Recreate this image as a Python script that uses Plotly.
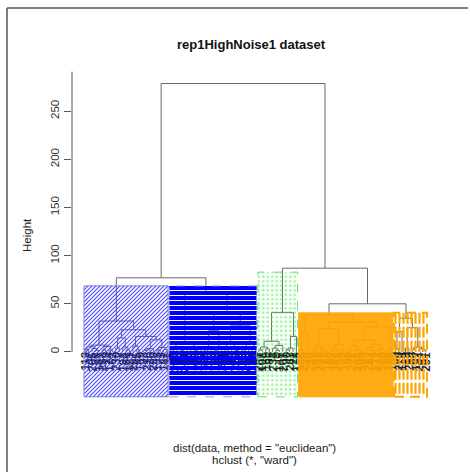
import math
import plotly.graph_objects as go

TITLE = "rep1HighNoise1 dataset"
Y_LABEL = "Height"
SUB1 = 'dist(data, method = "euclidean")'
SUB2 = 'hclust (*, "ward")'
Y_TICKS = [0, 50, 100, 150, 200, 250]

# dendrogram sub-trees: [left, right, merge height]; 0 = a leaf
TREE_A = [[[[0, 0, 2.5], [0, [0, 0, 1.5], 3.5], 5.2], [[0, 0, 2], [0, 0, 1.8], 5.6], 7],
          [[[0, 0, 4], [0, [0, 0, 2], 5], 14.5],
           [[0, [0, 0, 2], 6],
            [[[[0, 0, 1.5], 0, 2.8], 0, 3.6], [[0, 0, 2], [0, 0, 2.6], 4.5], 12.5], 16], 23], 32]
TREE_B = [[[[0, 0, 2], [0, [0, 0, 1.2], 3], 5], [[0, 0, 2.5], [[0, 0, 1.6], 0, 3.2], 4.8], 10],
          [[[[0, 0, 2], 0, 4], [[0, 0, 1.8], 0, 3.5], 22],
           [[[0, 0, 2.2], [0, [0, 0, 1.4], 3], 9], [[[0, 0, 2], 0, 3.6], [0, 0, 2.6], 10.5], 27], 39], 62.6]
TREE_C = [[[[0, 0, 2], [0, 0, 3.2], 5], [[0, [0, 0, 1.5], 3.8], 0, 6.5], 11],
          [[[0, 0, 2], 0, 4], 0, 16], 41]
TREE_D = [[[0, 0, 3], [0, 0, 2.5], 20],
          [[[[0, 0, 2], [0, [0, 0, 1.6], 3.4], 6], [[[0, 0, 2.4], 0, 4], [0, 0, 1.9], 7.5], 24],
           [[[[0, 0, 2.1], [[0, 0, 1.3], 0, 3], 5.5],
             [[[0, 0, 2.7], [0, 0, 1.7], 4.4], [0, [0, 0, 2], 3.6], 8], 12], [0, 0, 3.5], 26], 31], 38]
TREE_E = [[[0, 0, 3], 0, 21], [[0, 0, 4], [[0, 0, 2.5], [0, [0, 0, 1.8], 3.2], 5], 25], 35]
H_LEFT = 76.9
H_DE = 49.9
H_RIGHT = 86.9
H_ROOT = 278.7

BOX_TOPS = [68.5, 68.5, 82.8, 40.5, 40.5]
BOX_BOTTOM = -46.7

LEAF_LABELS = [
    "112", "37", "205", "88", "141", "263", "19", "174", "52", "230",
    "7", "198", "64", "121", "287", "45", "159", "93", "216", "30",
    "250", "133", "71", "182", "11", "276", "104", "58", "167", "241",
    "26", "149", "84", "293", "117", "63", "210", "3", "189", "127",
    "272", "41", "155", "99", "222", "15", "136", "258", "77", "194",
    "34", "281", "108", "169", "56", "234", "9", "145", "201", "90",
    "267", "22", "178", "125", "299", "48", "213", "81", "152", "239",
    "13", "186", "67", "118", "254", "39", "162", "96", "227", "5",
    "284", "130", "73", "207", "44", "171", "247", "100", "18", "193",
    "139", "60", "270", "114", "29", "219", "86", "157", "244", "51",
    "291", "123",
]

FONT = "Liberation Sans, Arial, Helvetica, sans-serif"
W, H = 470, 472
ML, MR, MT, MB = 72, 30, 63, 72
Y_LO, Y_HI = -50, 300


def count_leaves(node):
    if node == 0:
        return 1
    return count_leaves(node[0]) + count_leaves(node[1])


def build(node, xs, ys, counter):
    if node == 0:
        counter[0] += 1
        return float(counter[0]), 0.0
    left, right, h = node
    lx, lh = build(left, xs, ys, counter)
    rx, rh = build(right, xs, ys, counter)
    xs += [lx, lx, rx, rx, None]
    ys += [lh, h, h, rh, None]
    return (lx + rx) / 2.0, h


clusters = [TREE_A, TREE_B, TREE_C, TREE_D, TREE_E]
root = [[TREE_A, TREE_B, H_LEFT], [TREE_C, [TREE_D, TREE_E, H_DE], H_RIGHT], H_ROOT]
N = count_leaves(root)
seg_x, seg_y = [], []
build(root, seg_x, seg_y, [0])

spans = []
start = 1
for t in clusters:
    n = count_leaves(t)
    spans.append((start, start + n - 1))
    start += n

plot_w = W - ML - MR
plot_h = H - MT - MB
step = (425.9 - 85.2) / (N - 1)
x_lo = 1 - (85.2 - ML) / step
x_hi = N + (ML + plot_w - 425.9) / step


def d2px_x(v):
    return ML + (v - x_lo) / (x_hi - x_lo) * plot_w


def d2px_y(v):
    return H - MB - (v - Y_LO) / (Y_HI - Y_LO) * plot_h


def px2d_x(p):
    return x_lo + (p - ML) / plot_w * (x_hi - x_lo)


def px2d_y(p):
    return Y_LO + (H - MB - p) / plot_h * (Y_HI - Y_LO)


fig = go.Figure()

labels = [LEAF_LABELS[i % len(LEAF_LABELS)] for i in range(N)]
fig.add_trace(go.Bar(
    x=list(range(1, N + 1)), y=[-30] * N, text=["<b>" + t + "</b>" for t in labels],
    textposition="inside", insidetextanchor="start", textangle=-90,
    constraintext="none", cliponaxis=False,
    insidetextfont=dict(size=11.5, color="#1e1e28", family=FONT),
    marker=dict(color="rgba(0,0,0,0)", line=dict(width=0)),
    width=0.8, hoverinfo="skip", showlegend=False))

fig.add_trace(go.Scatter(x=seg_x, y=seg_y, mode="lines",
                         line=dict(color="#6a6a6a", width=1),
                         hoverinfo="skip", showlegend=False))

rects = []
for (s, e), top in zip(spans, BOX_TOPS):
    rects.append((s - 0.34, e + 0.33, BOX_BOTTOM, top))


def outline(r, line, fill=None, pattern=None):
    x0, x1, y0, y1 = r
    kw = dict(x=[x0, x1, x1, x0, x0], y=[y0, y0, y1, y1, y0], mode="lines",
              line=line, hoverinfo="skip", showlegend=False)
    if fill is not None or pattern is not None:
        kw["fill"] = "toself"
        kw["fillcolor"] = fill if fill is not None else "rgba(0,0,0,0)"
    if pattern is not None:
        kw["fillpattern"] = pattern
    fig.add_trace(go.Scatter(**kw))


# --- box A: diagonal hatching ---
rA = rects[0]
L, R = d2px_x(rA[0]), d2px_x(rA[1])
T, B = d2px_y(rA[3]), d2px_y(rA[2])
hx, hy = [], []
c = L + T
while c <= R + B:
    a, b = max(L, c - B), min(R, c - T)
    if b > a:
        hx += [px2d_x(a), px2d_x(b), None]
        hy += [px2d_y(c - a), px2d_y(c - b), None]
    c += 4.0
fig.add_trace(go.Scatter(x=hx, y=hy, mode="lines", line=dict(color="#4a4aff", width=1.15),
                         hoverinfo="skip", showlegend=False))
outline(rA, dict(color="#7d7dd0", width=1))

# --- box B: horizontal hatching ---
rB = rects[1]
T, B = d2px_y(rB[3]), d2px_y(rB[2])
hx, hy = [], []
p = math.ceil(T + 2)
while p <= B - 1:
    hx += [rB[0], rB[1], None]
    hy += [px2d_y(p), px2d_y(p), None]
    p += 5
fig.add_trace(go.Scatter(x=hx, y=hy, mode="lines", line=dict(color="#0000ff", width=3.8),
                         hoverinfo="skip", showlegend=False))
outline(rB, dict(color="#9a9ad8", width=1, dash="dash"))

# --- box C: dotted pattern ---
outline(rects[2], dict(color="#66e066", width=1, dash="dash"),
        pattern=dict(shape=".", fgcolor="#3cec3c", size=4.5, solidity=0.3))

# --- box D: solid ---
outline(rects[3], dict(color="rgba(255,165,0,0.9)", width=1), fill="rgba(255,165,0,0.92)")

# --- box E: dashed vertical hatching ---
rE = rects[4]
L, R = d2px_x(rE[0]), d2px_x(rE[1])
hx, hy = [], []
p = math.floor(L) + 1.5
while p <= R - 0.5:
    hx += [px2d_x(p), px2d_x(p), None]
    hy += [rE[3], rE[2], None]
    p += 4
fig.add_trace(go.Scatter(x=hx, y=hy, mode="lines",
                         line=dict(color="#ffa500", width=2.2, dash="11px,3px"),
                         hoverinfo="skip", showlegend=False))
outline(rE, dict(color="#ffa500", width=2, dash="10px,6px"))


def px_x(p):
    return (p - ML) / plot_w


def px_y(p):
    return (H - MB - p) / plot_h


shapes = [
    dict(type="line", xref="paper", yref="y", x0=0, x1=0, y0=0, y1=291,
         line=dict(color="#555555", width=1)),
    dict(type="line", xref="paper", yref="paper", x0=px_x(7), x1=px_x(7),
         y0=px_y(8), y1=px_y(H + 5), line=dict(color="#555555", width=1.5)),
    dict(type="line", xref="paper", yref="paper", x0=px_x(7), x1=px_x(468),
         y0=px_y(8), y1=px_y(8), line=dict(color="#555555", width=1.5)),
]


def note(text, x, y, size=11.5, angle=0, color="#222"):
    return dict(text=text, xref="paper", yref="paper", x=px_x(x), y=px_y(y),
                xanchor="center", yanchor="middle", textangle=angle, showarrow=False,
                font=dict(size=size, color=color, family=FONT))


annotations = [
    note("<b>" + TITLE + "</b>", 251, 45, size=13, color="#111"),
    note(Y_LABEL, 27, 235, angle=-90),
    note(SUB1, 254.5, 447.5),
    note(SUB2, 254.5, 460),
]

fig.update_layout(
    width=W, height=H, margin=dict(l=ML, r=MR, t=MT, b=MB, pad=0, autoexpand=False),
    paper_bgcolor="white", plot_bgcolor="white", showlegend=False,
    xaxis=dict(range=[x_lo, x_hi], visible=False, fixedrange=True),
    yaxis=dict(range=[Y_LO, Y_HI], tickvals=Y_TICKS, ticktext=[str(v) for v in Y_TICKS],
               tickangle=-90, ticks="outside", ticklen=7, tickcolor="#555555",
               showline=False, showgrid=False, zeroline=False, automargin=False,
               fixedrange=True,
               tickfont=dict(size=11.5, color="#333", family=FONT)),
    shapes=shapes, annotations=annotations,
)

fig.write_html("out.html", config={"displayModeBar": False, "staticPlot": True},
               post_script="document.body.style.margin='0px';document.body.style.overflow='hidden';")
